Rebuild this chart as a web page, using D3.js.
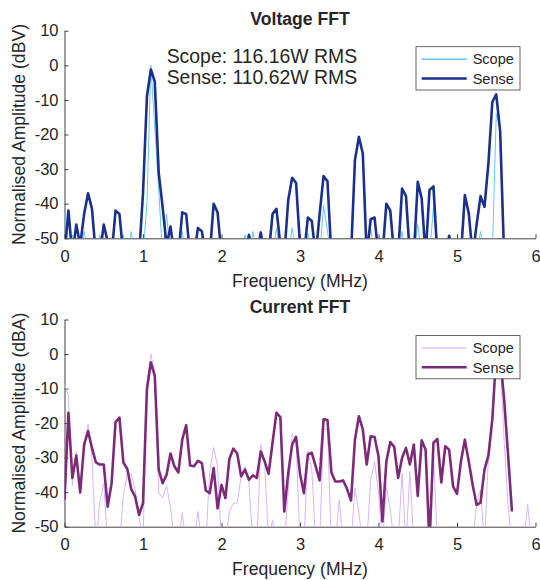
<!DOCTYPE html>
<html>
<head>
<meta charset="utf-8">
<script src="https://cdn.jsdelivr.net/npm/d3@7/dist/d3.min.js"></script>
<style>
  body { margin: 0; background: #fff; }
  svg text { font-family: "Liberation Sans", Arial, Helvetica, sans-serif; fill: #262626; }
</style>
</head>
<body>
<svg id="chart" width="540" height="580"></svg>
<script>
// FFT bins are 0.05 MHz apart, values in dB; anything under -50 falls off the axes
var binStepMHz = 0.05;
var freqTicks = [0, 1, 2, 3, 4, 5, 6];
var ampTicks = [10, 0, -10, -20, -30, -40, -50];
var legendLabels = ['Scope', 'Sense'];
var rmsNotes = ['Scope: 116.16W RMS', 'Sense: 110.62W RMS'];

var voltageScope = [
  -43, -55, -49, -55, -55, -48, -55, -55, -55, -49,
  -55, -55, -55, -55, -55, -49, -55, -48, -55, -55,
  -55, -40, 0, -18, -36, -55, -43, -55, -55, -55,
  -48, -55, -55, -55, -55, -55, -55, -55, -55, -55,
  -55, -55, -55, -55, -55, -55, -49, -55, -48, -55,
  -55, -55, -55, -55, -47, -55, -55, -55, -47, -55,
  -55, -55, -48.5, -55, -55, -55, -40.5, -48, -55, -55,
  -55, -55, -55, -55, -55, -55, -55, -55, -47, -55,
  -55, -55, -55, -55, -55, -55, -48, -55, -55, -55,
  -46, -55, -55, -55, -41, -55, -55, -55, -55, -55,
  -55, -55, -55, -55, -55, -55, -48, -55, -55, -55,
  -14, -18.5, -55, -55, -55, -55, -55, -55, -55, -55, -55
];
var voltageSense = [
  -55, -42, -55, -46, -52, -43, -37, -41.5, -55, -55,
  -46, -51, -55, -42, -43, -55, -55, -55, -55, -55,
  -37, -9, -1.2, -4.7, -31, -41, -52, -46.6, -55, -55,
  -42.5, -43, -55, -55, -47, -48, -55, -55, -40, -42.5,
  -55, -55, -55, -55, -55, -55, -55, -49, -55, -55,
  -48.3, -55, -55, -43, -41.5, -52, -55, -39, -32.5, -34,
  -52, -55, -44, -45, -55, -43, -32, -33.5, -55, -55,
  -55, -55, -55, -55, -27.4, -20.7, -25.5, -55, -44.5, -44,
  -55, -55, -40, -42, -55, -55, -35.6, -37.8, -55, -55,
  -33.7, -38.5, -55, -36, -35, -55, -55, -55, -49.3, -55,
  -55, -55, -37.5, -42.8, -55, -46, -37.8, -40.9, -28.4, -10.6,
  -8.4, -19.2, -55, -55
];
var currentScope = [
  -8.7, -12.1, -38, -28.2, -40, -28, -20.4, -30, -55, -43,
  -37.4, -55, -55, -55, -55, -41, -34.7, -34.7, -39.3, -47,
  -55, -8.3, 0, -5.3, -40.1, -41.7, -38.2, -44.2, -55, -55,
  -45.9, -55, -55, -55, -45.6, -55, -55, -34, -27, -32.5,
  -55, -55, -45.6, -43.2, -43.2, -35.4, -32.5, -37.4, -55, -55,
  -26.2, -31.6, -55, -48, -55, -55, -55, -40, -23, -25,
  -55, -55, -28.2, -33, -55, -55, -21.8, -21.8, -55, -55,
  -42.2, -55, -55, -55, -38.8, -46, -55, -55, -36.4, -31.1,
  -40, -55, -38.2, -45, -55, -55, -34.5, -55, -34, -55,
  -55, -55, -55, -55, -28.6, -55, -55, -55, -55, -55,
  -55, -50, -55, -55, -55, -43.2, -39.3, -55, -30, -19,
  -1, -1, -25, -43.7, -55, -55, -55, -55, -43.5, -55, -55
];
var currentSense = [
  -42.2, -17, -35.9, -29.4, -40.1, -26.2, -22.3, -27.2, -31.4, -32,
  -32, -44.2, -37.4, -19.7, -18.4, -31.4, -33.3, -39.1, -41.3, -46.6,
  -43.2, -10.2, -2.4, -6.3, -33.5, -37.4, -35, -28.8, -32.5, -34.3,
  -24.8, -20.6, -32.3, -32.5, -30.9, -31.6, -39.5, -40.3, -33, -44.7,
  -37.9, -41.7, -30.4, -27.4, -28.8, -35.4, -33.5, -36.4, -35.1, -35.9,
  -28.2, -31.1, -34.7, -25.7, -17, -18.3, -45.6, -34.5, -26.2, -24,
  -34.7, -40.3, -29.1, -28.6, -32.5, -36.6, -18.9, -19.1, -34.3, -36.9,
  -36.9, -36.6, -39.1, -42.4, -24.8, -18, -21.8, -32, -23.8, -24,
  -29.6, -48.5, -31.1, -25.5, -26.9, -35.9, -30.1, -27.2, -32, -26.2,
  -41.1, -25, -27.7, -55, -25.7, -24.6, -37.2, -26.7, -27.7, -38.3,
  -40.5, -31.1, -24.8, -31.1, -37.9, -43.7, -43, -33.5, -29.4, -18.9,
  0, -1, -13, -29, -45.6
];

var svg = d3.select('#chart');

function drawPanel(cfg) {
  var x = d3.scaleLinear().domain([0, 6]).range([64.5, 535.5]);
  var y = d3.scaleLinear().domain([-50, 10]).range([cfg.bottom, cfg.top]);
  var g = svg.append('g');

  g.append('clipPath').attr('id', cfg.id + '-clip')
    .append('rect')
    .attr('x', x(0)).attr('y', y(10))
    .attr('width', x(6) - x(0)).attr('height', y(-50) - y(10));

  // axes, ticks point inwards, no box
  var xAxis = g.append('g').attr('transform', 'translate(0,' + y(-50) + ')')
    .call(d3.axisBottom(x).tickValues(freqTicks).tickFormat(function (d) { return String(d); })
      .tickSizeInner(-4).tickSizeOuter(0).tickPadding(12));
  var yAxis = g.append('g').attr('transform', 'translate(' + x(0) + ',0)')
    .call(d3.axisLeft(y).tickValues(ampTicks).tickFormat(function (d) { return String(d); })
      .tickSizeInner(-4).tickSizeOuter(0).tickPadding(6));
  [xAxis, yAxis].forEach(function (a) {
    a.selectAll('path, line').attr('stroke', '#404040');
    a.selectAll('text').attr('font-size', 16.5).attr('fill', '#262626');
  });

  var line = d3.line()
    .x(function (d, i) { return x(i * binStepMHz); })
    .y(function (d) { return y(d); });

  var plot = g.append('g').attr('clip-path', 'url(#' + cfg.id + '-clip)');
  plot.append('path').datum(cfg.scope)
    .attr('fill', 'none').attr('stroke', cfg.colors[0]).attr('stroke-width', 1)
    .attr('stroke-linejoin', 'round').attr('d', line);
  plot.append('path').datum(cfg.sense)
    .attr('fill', 'none').attr('stroke', cfg.colors[1]).attr('stroke-width', 2.6)
    .attr('stroke-linejoin', 'round').attr('d', line);

  // titles and labels
  g.append('text').attr('x', 300).attr('y', cfg.top - 6.2)
    .attr('text-anchor', 'middle').attr('font-size', 17.6).attr('font-weight', 'bold')
    .attr('fill', '#000').text(cfg.title);
  g.append('text').attr('x', 300).attr('y', cfg.bottom + 48.5)
    .attr('text-anchor', 'middle').attr('font-size', 17.6).text('Frequency (MHz)');
  g.append('text')
    .attr('transform', 'translate(25,' + ((cfg.top + cfg.bottom) / 2) + ') rotate(-90)')
    .attr('text-anchor', 'middle').attr('font-size', 17.6).text(cfg.ylabel);

  // legend sits on top of the lines
  var lg = g.append('g').attr('transform', 'translate(416,' + (cfg.top + 16) + ')');
  lg.append('rect').attr('width', 104).attr('height', 43.3)
    .attr('fill', '#fff').attr('stroke', '#404040').attr('stroke-width', 0.8);
  legendLabels.forEach(function (lab, k) {
    var ry = 12.6 + k * 19.2;
    lg.append('line').attr('x1', 5.7).attr('x2', 50.7).attr('y1', ry).attr('y2', ry)
      .attr('stroke', cfg.colors[k]).attr('stroke-width', k === 0 ? 1.4 : 2.6);
    lg.append('text').attr('x', 56.7).attr('y', ry + 5.2)
      .attr('font-size', 14.5).attr('fill', '#000').text(lab);
  });

  if (cfg.notes) {
    cfg.notes.forEach(function (t, k) {
      g.append('text').attr('x', 166.7).attr('y', 63.3 + k * 20.7)
        .attr('font-size', 19.4).attr('fill', '#000').text(t);
    });
  }
}

drawPanel({
  id: 'volt', top: 30.7, bottom: 238.3, title: 'Voltage FFT',
  ylabel: 'Normalised Amplitude (dBV)',
  scope: voltageScope, sense: voltageSense,
  colors: ['#66c8ef', '#1b2f8c'], notes: rmsNotes
});
drawPanel({
  id: 'curr', top: 319.5, bottom: 526.7, title: 'Current FFT',
  ylabel: 'Normalised Amplitude (dBA)',
  scope: currentScope, sense: currentSense,
  colors: ['#d8b6fb', '#7d2a78']
});
</script>
</body>
</html>
